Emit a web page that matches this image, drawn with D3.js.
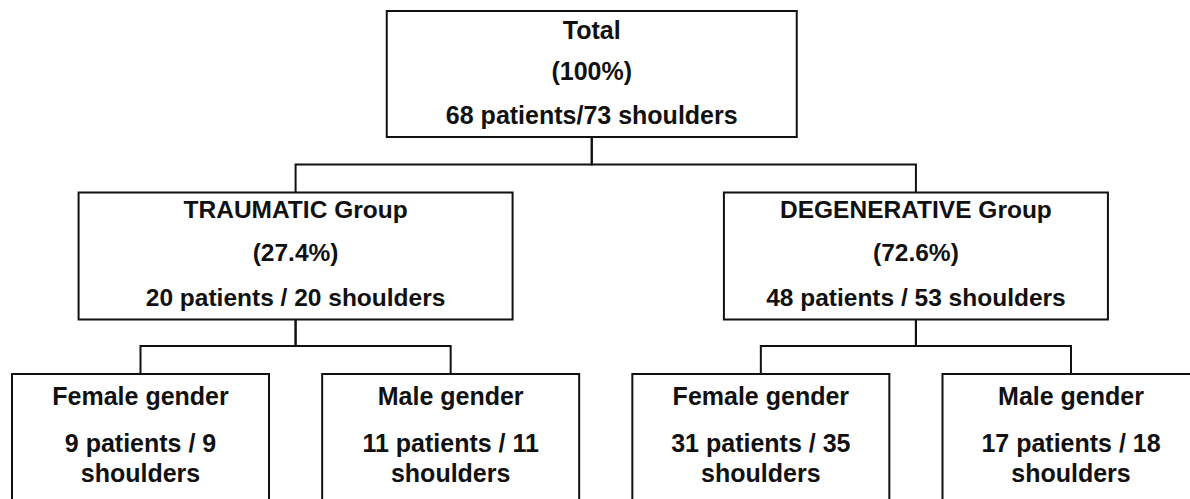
<!DOCTYPE html>
<html>
<head>
<meta charset="utf-8">
<script src="https://cdn.jsdelivr.net/npm/d3@7"></script>
<style>
  html, body { margin: 0; padding: 0; background: #fff; overflow: hidden; }
  svg { display: block; }
  .box { fill: #fff; stroke: #111; stroke-width: 2; }
  .link { fill: none; stroke: #111; stroke-width: 2; }
  .label { font-family: "Liberation Sans", Arial, sans-serif; font-weight: bold; fill: #111; text-anchor: middle; }
</style>
</head>
<body>
<svg id="chart"></svg>
<script>
const groupNames = ["Total", "TRAUMATIC Group", "DEGENERATIVE Group"];
const groupShares = ["(100%)", "(27.4%)", "(72.6%)"];
const groupPatients = [68, 20, 48];
const groupShoulders = [73, 20, 53];
const genderNames = ["Female gender", "Male gender"];
const genderPatients = [[9, 11], [31, 17]];
const genderShoulders = [[9, 11], [35, 18]];

const W = 1190, H = 499;
const svg = d3.select("#chart").attr("width", W).attr("height", H);

// Build the hierarchy from the arrays
const treeData = {
  lines: [groupNames[0], groupShares[0], `${groupPatients[0]} patients/${groupShoulders[0]} shoulders`],
  children: [1, 2].map((g, gi) => ({
    lines: [groupNames[g], groupShares[g], `${groupPatients[g]} patients / ${groupShoulders[g]} shoulders`],
    children: genderNames.map((name, k) => ({
      lines: [name, `${genderPatients[gi][k]} patients / ${genderShoulders[gi][k]}`, "shoulders"]
    }))
  }))
};

const root = d3.hierarchy(treeData);
d3.tree().nodeSize([1, 1]).separation(() => 1)(root);

// Layout
const x = d3.scaleLinear().domain([-1.5, 1.5]).range([140.5, 1071]);
const y = d3.scaleLinear().domain([0, 2]).range([11, 374]);
const rootShift = -14;                  // top box sits a little left of centre
const boxWidth = (d) => d.depth === 0 ? 410 : d.depth === 2 ? 257 : (d.data.lines[0].startsWith("TRAUMATIC") ? 434 : 384);
const boxHeight = [126, 127, 140];
const lineOffsets = [[28, 69, 113], [25, 68, 113], [31, 78, 108]];
const fontSize = [25, 24.5, 25];
const elbowGap = 28;

const cx = (d) => x(d.x) + (d.depth === 0 ? rootShift : 0);
const boxTop = (d) => y(d.depth);

// Connectors
svg.append("g")
  .selectAll("path")
  .data(root.links())
  .join("path")
  .attr("class", "link")
  .attr("d", (l) => {
    const py = boxTop(l.source) + boxHeight[l.source.depth];
    const cy = boxTop(l.target);
    const ey = cy - elbowGap;
    return `M${cx(l.source)},${py}V${ey}H${cx(l.target)}V${cy}`;
  });

// Boxes
const nodes = svg.append("g")
  .selectAll("g")
  .data(root.descendants())
  .join("g")
  .attr("transform", (d) => `translate(${cx(d)},${boxTop(d)})`);

nodes.append("rect")
  .attr("class", "box")
  .attr("x", (d) => -boxWidth(d) / 2)
  .attr("y", 0)
  .attr("width", boxWidth)
  .attr("height", (d) => boxHeight[d.depth]);

nodes.each(function (d) {
  const g = d3.select(this);
  d.data.lines.forEach((t, i) => {
    g.append("text")
      .attr("class", "label")
      .attr("x", 0)
      .attr("y", lineOffsets[d.depth][i])
      .style("font-size", fontSize[d.depth] + "px")
      .text(t);
  });
});
</script>
</body>
</html>
